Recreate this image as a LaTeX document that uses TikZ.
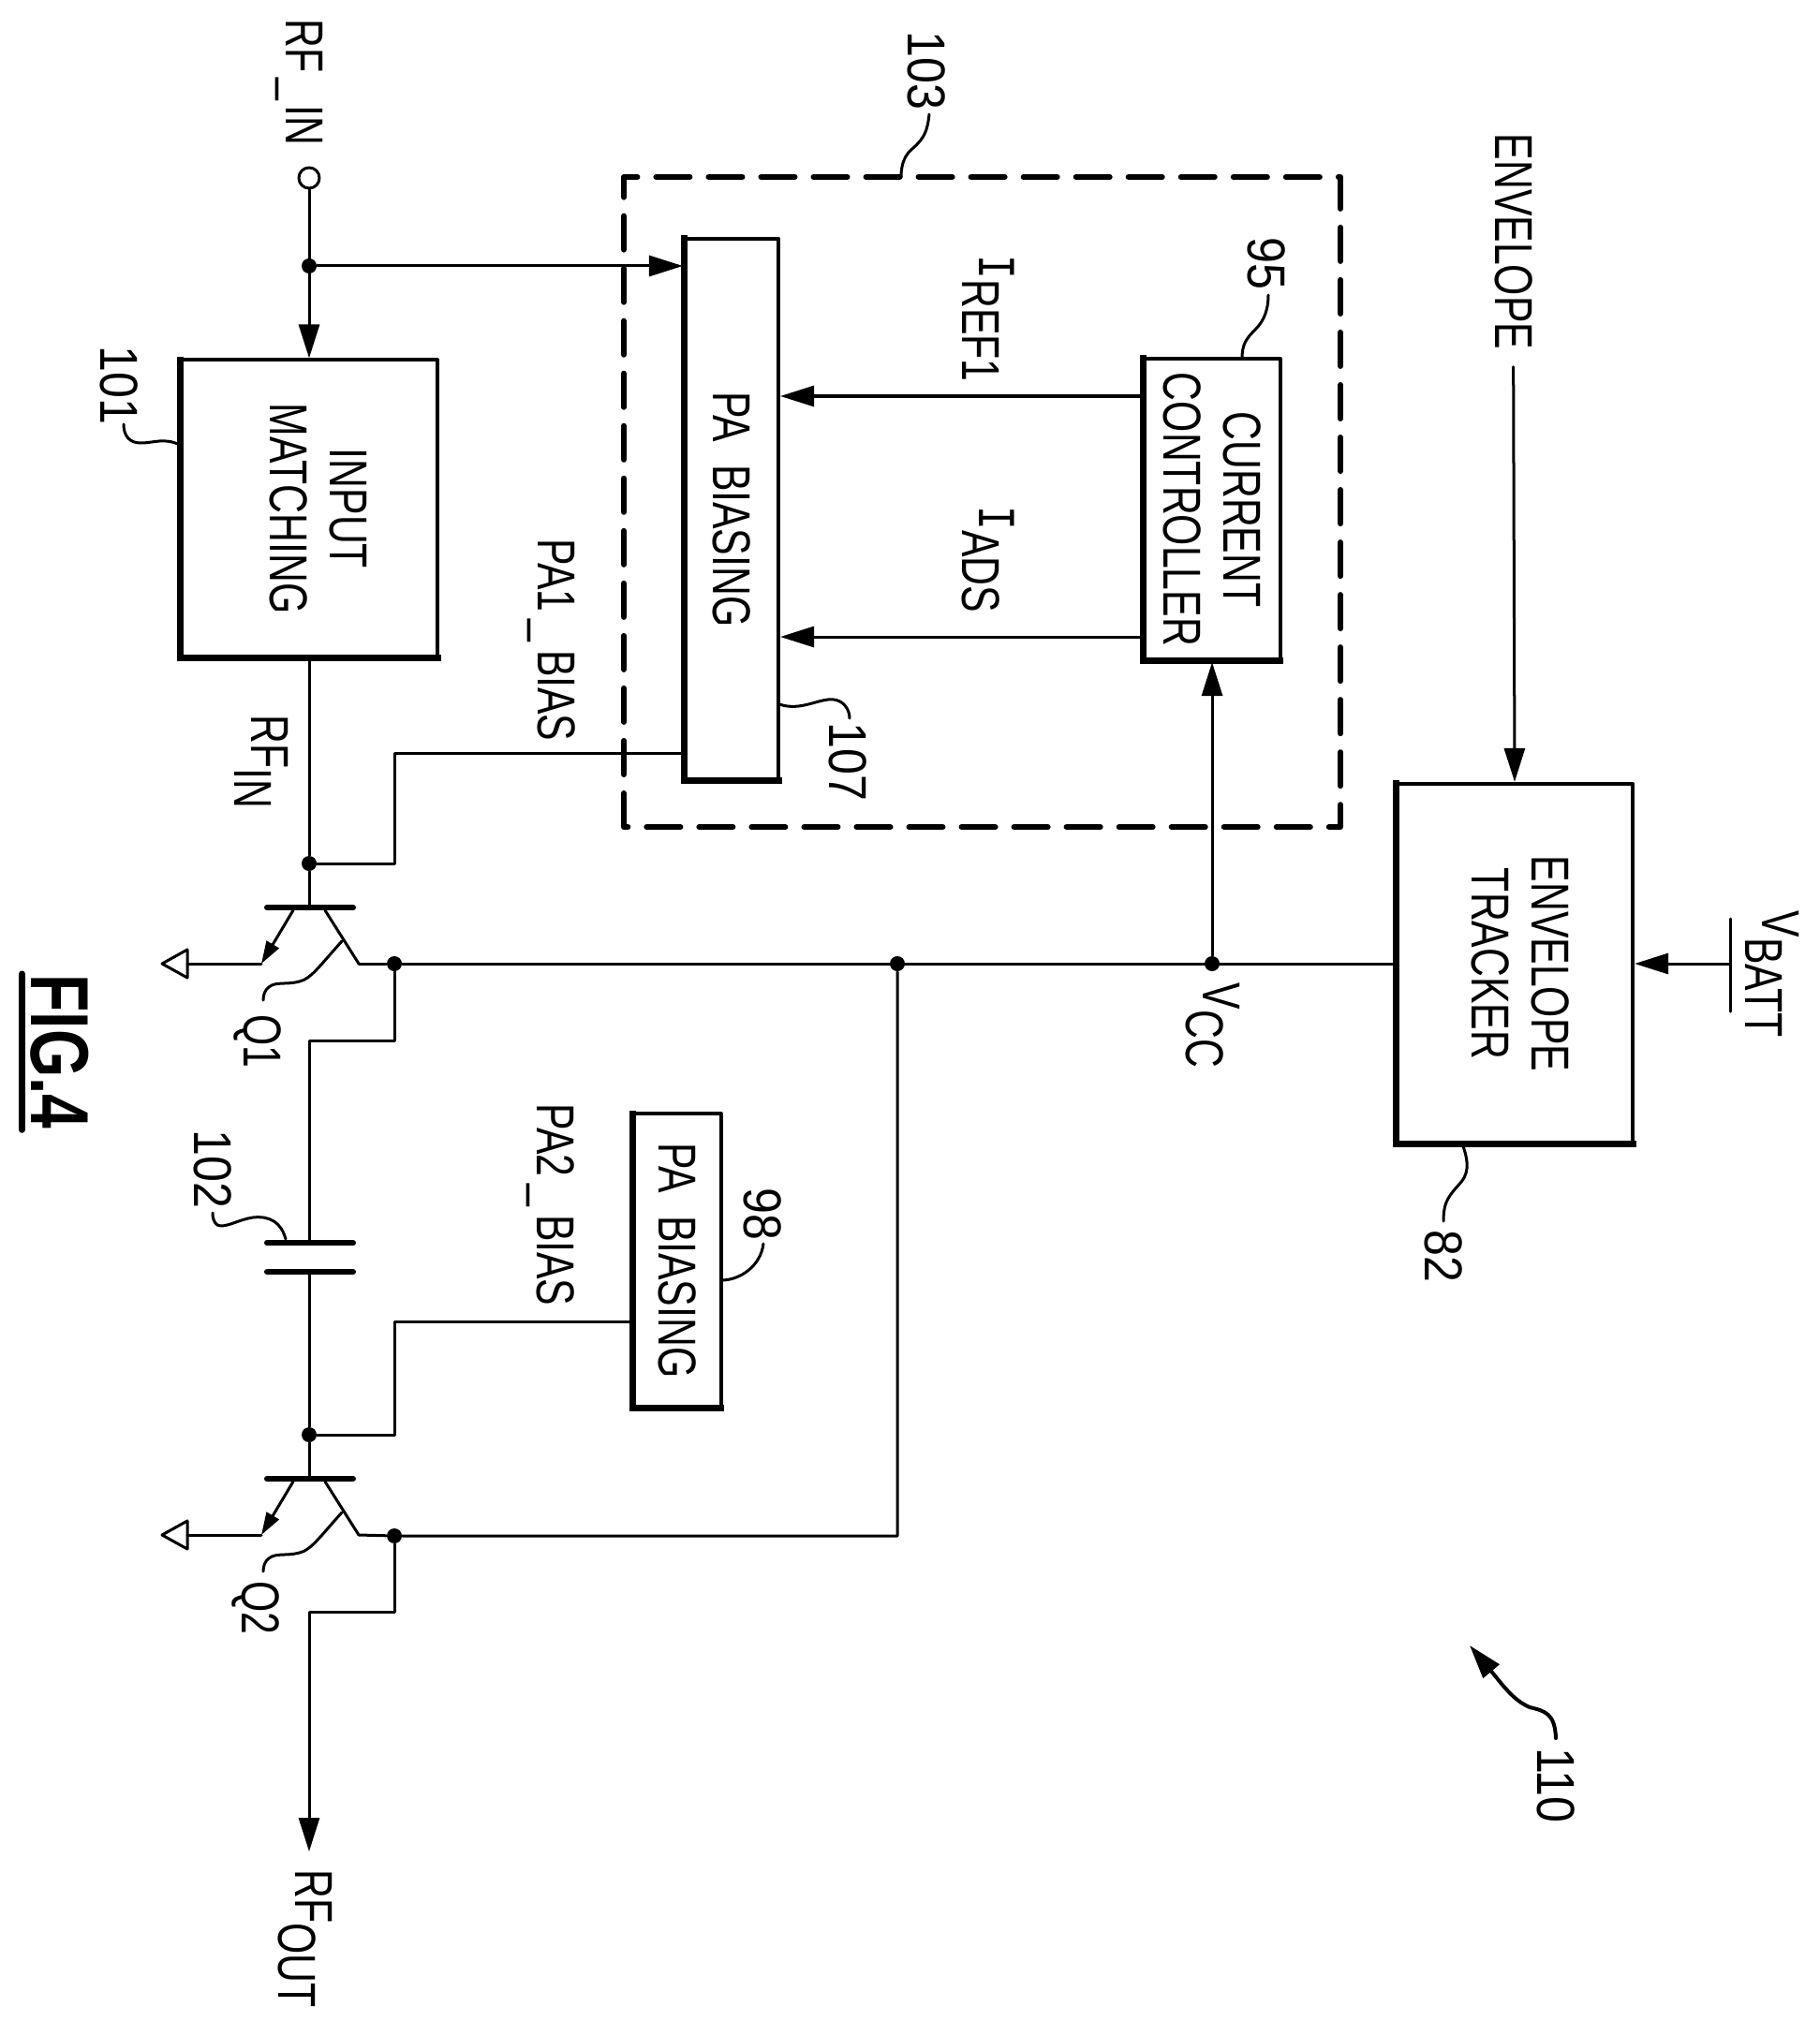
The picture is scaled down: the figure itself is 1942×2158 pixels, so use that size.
\documentclass[tikz,border=0pt]{standalone}
\usepackage{fontspec}
\usetikzlibrary{arrows.meta}
\setmainfont[FakeStretch=0.75]{Liberation Sans}
\newfontfamily\ibarfont[FakeStretch=0.75]{Liberation Mono}
\newfontfamily\markfont[FakeStretch=0.88]{Liberation Sans}
\newcommand{\lowtext}[1]{\raisebox{-.3em}{#1}}
\newcommand{\gapbar}{\hspace{.15em}\_\hspace{.15em}}

\begin{document}
\begin{tikzpicture}[
	x=0.01cm,
	y=-0.01cm,
	line cap=round,
	line join=round,
	>={Triangle[length=0.36cm,width=0.22cm]},
	every node/.style={font=\fontsize{16.2}{18.2}\selectfont},
	wire/.style={line width=0.03cm},
	leader/.style={line width=0.03cm},
	platebar/.style={line width=0.06cm},
	blockbox/.style={
		shape=rectangle,
		draw,
		line width=0.04cm,
		rotate=-90,
		align=center,
		inner sep=0pt
	},
	refmark/.style={rotate=-90, anchor=base west, inner sep=0pt},
	marknum/.style={refmark, font=\fontsize{16.2}{18.2}\markfont},
	dot/.style={shape=circle, fill, inner sep=0pt, minimum size=0.16cm}
	]
	\useasboundingbox (0,0) rectangle (1942,2158);

	% blocks
	\node [blockbox, minimum width=3.17cm, minimum height=2.74cm, text depth=0.2cm] (input) at (330,543) {INPUT\\MATCHING};
	\node [blockbox, minimum width=5.78cm, minimum height=1.00cm] (biasone) at (781,544) {PA\ \ BIASING};
	\node [blockbox, minimum width=3.22cm, minimum height=1.45cm] (current) at (1294,544) {CURRENT\\CONTROLLER};
	\node [blockbox, minimum width=3.84cm, minimum height=2.52cm, text depth=0.12cm] (tracker) at (1617,1029) {ENVELOPE\\TRACKER};
	\node [blockbox, minimum width=3.13cm, minimum height=0.93cm] (biastwo) at (723,1346) {PA\ \ BIASING};
	\foreach \block in {input,biasone,current,tracker,biastwo}{
		\draw [line width=0.07cm, line cap=butt, line join=miter] ([shift={(0.015cm,0.015cm)}]\block.south west) -- ([shift={(0.015cm,0.015cm)}]\block.south east) -- ([shift={(0.015cm,0.015cm)}]\block.north east);
	}
	\draw [line width=0.06cm, dash pattern=on 0.36cm off 0.20cm] (666,883) -- (666,189) -- (1431,189) -- (1431,883) -- cycle;

	% junctions
	\node [draw, circle, wire, inner sep=0pt, minimum size=0.22cm] (rfpad) at (330,190) {};
	\node [dot] (split) at (330,284) {};
	\node [dot] (tapbaseone) at (330,922) {};
	\node [dot] (tapbasetwo) at (330,1532) {};
	\node [dot] (tapcollone) at (421,1029) {};
	\node [dot] (tapcolltwo) at (421,1640) {};
	\node [dot] (stagetwo) at (958,1029) {};
	\node [dot] (vcc) at (1294,1029) {};

	% transistors
	\foreach \q/\qy in {one/969,two/1579}{
		\begin{scope}[shift={(0,\qy)}]
		\draw [platebar] (285,0) -- (377,0);
		\coordinate (base\q) at (330,0);
		\coordinate (emit\q) at (279,60);
		\coordinate (coll\q) at (383,60);
		\coordinate (ground\q) at (200,60);
		\draw [wire, -{Triangle[length=0.24cm,width=0.15cm]}] (313,3) -- (emit\q);
		\draw [wire] (347,3) -- (coll\q);
		\draw [wire] (emit\q) -- (ground\q);
		\draw [wire] (200,45) -- (173,60) -- (200,75) -- cycle;
		\draw [leader] (365,36) .. controls (345,58) and (335,72) .. (325,77) .. controls (310,84) and (295,78) .. (287,85) .. controls (283,88) and (281,93) .. (281,99);
		\end{scope}
	}

	% capacitor
	\coordinate (capone) at (330,1327);
	\coordinate (captwo) at (330,1358);
	\draw [platebar] (285,1327) -- (377,1327);
	\draw [platebar] (285,1358) -- (377,1358);

	% wires
	\draw [wire, ->] (rfpad) -- (input.west);
	\draw [wire, ->] (split) -- (split -| biasone.south);
	\draw [wire] (input.east) -- (tapbaseone) -- (baseone);
	\draw [wire] (tapbaseone) -| (tapcollone |- 0,804) -- (biasone.south |- 0,804);
	\draw [wire] (collone) -- (tapcollone) -- (tracker.south);
	\draw [wire] (tapcollone) -- (421,1111) -| (capone);
	\draw [wire] (captwo) -- (tapbasetwo) -- (basetwo);
	\draw [wire] (tapbasetwo) -| (tapcolltwo |- 0,1411) -- (biastwo.south |- 0,1411);
	\draw [wire] (colltwo) -- (tapcolltwo) -- (stagetwo |- tapcolltwo) -- (stagetwo);
	\coordinate (rfoutend) at (330,1977);
	\draw [wire, ->] (tapcolltwo) -- (421,1721) -| (rfoutend);
	\draw [wire, ->] (vcc) -- (current.east);
	\draw [wire, ->] (current.south |- 0,423) -- (biasone.north |- 0,423);
	\draw [wire, ->] (current.south |- 0,680) -- (biasone.north |- 0,680);
	\coordinate (vbatt) at (1847,1029);
	\draw [wire] (1847,981) -- (1847,1080);
	\draw [wire, ->] (vbatt) -- (tracker.north);

	% labels
	\node [refmark] (rfinpin) at (305,20) {RF\hspace{.1em}\_\hspace{.1em}IN};
	\node [refmark] (rfinlabel) at (268,763) {RF\lowtext{IN}};
	\node [refmark] (rfoutlabel) at (315,1996) {RF\lowtext{OUT}};
	\node [refmark] (bianelabel) at (574,575) {PA1\gapbar BIAS};
	\node [refmark] (biatwolabel) at (573,1178) {PA2\gapbar BIAS};
	\node [refmark] (ireflabel) at (1045,272) {{\ibarfont I}\lowtext{REF1}};
	\node [refmark] (iadslabel) at (1045,540) {{\ibarfont I}\lowtext{ADS}};
	\node [refmark] (vcclabel) at (1284,1049) {V\lowtext{CC}};
	\node [refmark] (vbattlabel) at (1881,972) {V\lowtext{BATT}};
	\node [refmark] (envlabel) at (1596,142) {ENVELOPE};
	\draw [wire, ->, shorten <=0.18cm] (envlabel.east) -- (tracker.west);
	\node [refmark] (qone) at (260,1083) {Q1};
	\node [refmark] (qtwo) at (258,1688) {Q2};

	% reference numbers
	\node [marknum] (mark101) at (107,369) {101};
	\node [marknum] (mark102) at (207,1206) {102};
	\node [marknum] (mark103) at (969,33) {103};
	\node [marknum] (mark107) at (885,771) {107};
	\node [marknum] (mark95) at (1332,253) {95};
	\node [marknum] (mark98) at (794,1268) {98};
	\node [marknum] (mark82) at (1521,1313) {82};
	\node [marknum] (mark110) at (1641,1866) {110};
	\draw [leader] (192,475) .. controls (175,467) and (165,473) .. (150,473) .. controls (138,473) and (132,465) .. (132,453);
	\draw [leader] (305,1323) .. controls (300,1305) and (288,1298) .. (270,1300) .. controls (255,1302) and (240,1312) .. (232,1308) .. controls (228,1305) and (227,1300) .. (227,1295);
	\draw [leader] (962,189) .. controls (962,175) and (966,165) .. (975,158) .. controls (987,147) and (990,140) .. (992,122);
	\draw [leader] (832,752) .. controls (855,760) and (875,745) .. (890,747) .. controls (900,748) and (907,757) .. (907,767);
	\draw [leader] (1326,383) .. controls (1326,368) and (1330,362) .. (1340,352) .. controls (1350,342) and (1354,330) .. (1354,315);
	\draw [leader] (770,1367) .. controls (790,1367) and (812,1352) .. (815,1328);
	\draw [leader] (1561,1221) .. controls (1566,1235) and (1570,1250) .. (1560,1262) .. controls (1547,1277) and (1541,1282) .. (1541,1304);
	\draw [line width=0.04cm, ->] (1661,1856) .. controls (1660,1830) and (1650,1827) .. (1633,1823) .. controls (1615,1815) and (1605,1800) .. (1569,1757);

	% figure title
	\node [refmark, font=\fontsize{25}{28}\selectfont\bfseries] (figtitle) at (33,1040) {FIG.4};
	\draw [line width=0.07cm] ([xshift=-0.08cm]figtitle.south west) -- ([xshift=-0.08cm]figtitle.south east);
\end{tikzpicture}
\end{document}
